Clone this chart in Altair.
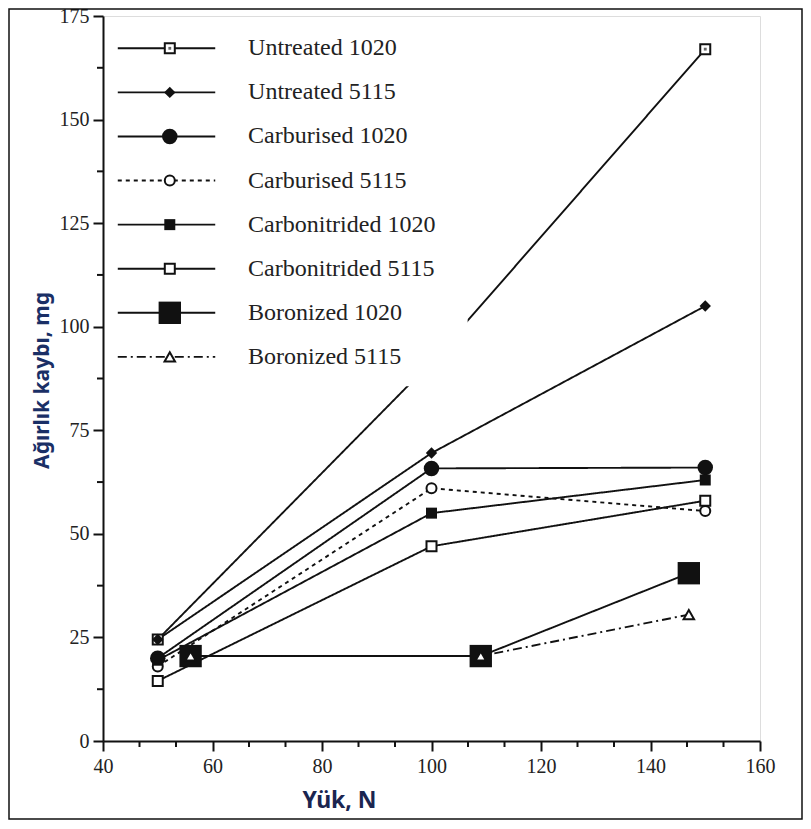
import altair as alt
import pandas as pd

# ---------------- data ----------------
series = ["Untreated 1020", "Untreated 5115", "Carburised 1020", "Carburised 5115",
          "Carbonitrided 1020", "Carbonitrided 5115", "Boronized 1020", "Boronized 5115"]

load_untreated_1020 = [50, 100, 150]
loss_untreated_1020 = [24.5, 91.5, 167.0]
load_untreated_5115 = [50, 100, 150]
loss_untreated_5115 = [24.5, 69.5, 105.0]
load_carburised_1020 = [50, 100, 150]
loss_carburised_1020 = [20.0, 65.8, 66.0]
load_carburised_5115 = [50, 100, 150]
loss_carburised_5115 = [18.0, 61.0, 55.5]
load_carbonitrided_1020 = [50, 100, 150]
loss_carbonitrided_1020 = [19.5, 55.0, 63.0]
load_carbonitrided_5115 = [50, 100, 150]
loss_carbonitrided_5115 = [14.5, 47.0, 58.0]
load_boronized_1020 = [56, 109, 147]
loss_boronized_1020 = [20.5, 20.5, 40.5]
load_boronized_5115 = [56, 109, 147]
loss_boronized_5115 = [20.5, 20.5, 30.5]

x_ticks = [40, 60, 80, 100, 120, 140, 160]
y_ticks = [0, 25, 50, 75, 100, 125, 150, 175]

loads = [load_untreated_1020, load_untreated_5115, load_carburised_1020, load_carburised_5115,
         load_carbonitrided_1020, load_carbonitrided_5115, load_boronized_1020, load_boronized_5115]
losses = [loss_untreated_1020, loss_untreated_5115, loss_carburised_1020, loss_carburised_5115,
          loss_carbonitrided_1020, loss_carbonitrided_5115, loss_boronized_1020, loss_boronized_5115]

rows = []
for s, xs, ys in zip(series, loads, losses):
    for x, y in zip(xs, ys):
        rows.append({"series": s, "load": x, "loss": y})
df = pd.DataFrame(rows)

# ---------------- styling ----------------
INK = "#111111"
dash_range = [[1, 0], [1, 0], [1, 0], [4, 4], [1, 0], [1, 0], [1, 0], [9, 4, 2, 4]]
marker_style = {
    "Untreated 1020": ("square", 100, False),
    "Untreated 5115": ("diamond", 130, True),
    "Carburised 1020": ("circle", 240, True),
    "Carburised 5115": ("circle", 100, False),
    "Carbonitrided 1020": ("square", 121, True),
    "Carbonitrided 5115": ("square", 100, False),
    "Boronized 1020": ("square", 500, True),
    "Boronized 5115": ("triangle-up", 110, False),
}

# legend layout (in data units)
LEG_TOP, LEG_STEP = 167.2, 10.64
LEG_X1, LEG_X2, LEG_MARK, LEG_TEXT = 42.7, 60.5, 52.2, 66.5

x_enc = alt.X("load:Q",
              scale=alt.Scale(domain=[40, 160], nice=False, zero=False),
              axis=alt.Axis(values=x_ticks, title="Yük, N", format="d",
                            titleX=236, titleY=59, titleAlign="center", titleBaseline="middle",
                            titleFont="Noto Sans", titleFontSize=23, titleFontWeight="bold",
                            titleColor="#1a2550",
                            labelFont="Liberation Serif", labelFontSize=20, labelColor="#222222",
                            labelPadding=5, tickSize=10, tickWidth=2, tickColor=INK,
                            domainColor=INK, domainWidth=2, grid=False, labelFlush=False))
y_enc = alt.Y("loss:Q",
              scale=alt.Scale(domain=[0, 175], nice=False),
              axis=alt.Axis(values=y_ticks, title="Ağırlık kaybı, mg", format="d",
                            titleX=-51, titleY=364, titleAngle=270, titleAlign="center",
                            titleBaseline="bottom",
                            titleFont="Noto Sans", titleFontSize=21, titleFontWeight="bold",
                            titleColor="#1a2f66",
                            labelFont="Liberation Serif", labelFontSize=20, labelColor="#222222",
                            labelPadding=4, tickSize=10, tickWidth=2, tickColor=INK,
                            domainColor=INK, domainWidth=2, grid=False, labelFlush=False))
dash_enc = alt.StrokeDash("series:N", scale=alt.Scale(domain=series, range=dash_range), legend=None)


def marker_layers(data):
    out = []
    for s in series:
        shape, size, filled = marker_style[s]
        kw = dict(shape=shape, size=size, opacity=1, filled=True)
        if filled:
            kw.update(fill=INK, strokeWidth=0)
        else:
            kw.update(fill="white", stroke=INK, strokeWidth=2)
        out.append(alt.Chart(data).transform_filter(alt.datum.series == s)
                   .mark_point(**kw).encode(x=x_enc, y=y_enc))
        if s == "Untreated 1020":
            out.append(alt.Chart(data).transform_filter(alt.datum.series == s)
                       .mark_point(shape="square", size=8, filled=True, fill="#666666",
                                   opacity=1, strokeWidth=0)
                       .encode(x=x_enc, y=y_enc))
    return out


lines = alt.Chart(df).mark_line(color=INK, strokeWidth=1.9).encode(
    x=x_enc, y=y_enc, detail="series:N", strokeDash=dash_enc, order="load:Q")

# legend background (white box hiding what runs under the legend)
bg_df = pd.DataFrame([{"load": 40.5, "load2": 106.6, "loss": 85.6, "loss2": 174.6}])
legend_bg = alt.Chart(bg_df).mark_rect(fill="white", strokeWidth=0).encode(
    x=x_enc, x2=alt.X2("load2"), y=y_enc, y2=alt.Y2("loss2"))

leg_y = [LEG_TOP - i * LEG_STEP for i in range(len(series))]
leg_line_df = pd.DataFrame({"series": series, "load": LEG_X1, "load2": LEG_X2, "loss": leg_y})
leg_mark_df = pd.DataFrame({"series": series, "load": LEG_MARK, "loss": leg_y})
leg_text_df = pd.DataFrame({"series": series, "load": LEG_TEXT, "loss": leg_y})

legend_lines = alt.Chart(leg_line_df).mark_rule(color=INK, strokeWidth=1.9).encode(
    x=x_enc, x2=alt.X2("load2"), y=y_enc, strokeDash=dash_enc)
legend_text = alt.Chart(leg_text_df).mark_text(
    align="left", baseline="middle", font="Liberation Serif", fontSize=24, color="#222222"
).encode(x=x_enc, y=y_enc, text="series:N")

# minor ticks
x_minor = [40 + k * 20 / 3 for k in range(1, 18) if k % 3 != 0]
y_minor = [12.5 + 25 * k for k in range(7)]
xm = alt.Chart(pd.DataFrame({"load": x_minor})).mark_rule(color=INK, strokeWidth=2).encode(
    x=x_enc, y=alt.value(725), y2=alt.value(731))
ym = alt.Chart(pd.DataFrame({"loss": y_minor})).mark_rule(color=INK, strokeWidth=2).encode(
    y=y_enc, x=alt.value(0), x2=alt.value(-6))

# outer picture border
border = alt.Chart(pd.DataFrame([{"k": 0}])).mark_rect(
    fillOpacity=0, stroke=INK, strokeWidth=1.5).encode(
    x=alt.value(-94), x2=alt.value(699), y=alt.value(-7), y2=alt.value(803))

layers = ([lines] + marker_layers(df) + [legend_bg, legend_lines] +
          marker_layers(leg_mark_df) + [legend_text, xm, ym, border])

chart = alt.layer(*layers).properties(
    width=657, height=725,
    autosize=alt.AutoSizeParams(type="none"),
    padding={"left": 95, "top": 8, "right": 43, "bottom": 79},
).configure_view(stroke=INK, strokeWidth=2).configure(background="white")

chart.save("out.html", embed_options={"renderer": "svg", "actions": False})
